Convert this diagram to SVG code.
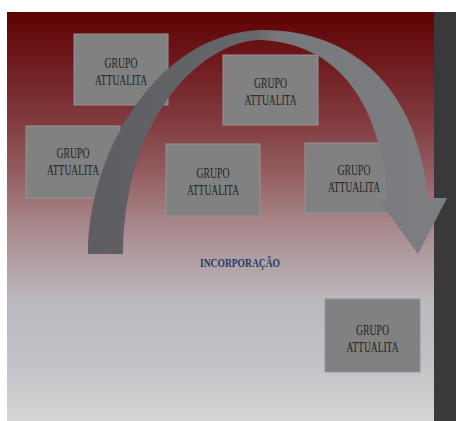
<svg xmlns="http://www.w3.org/2000/svg" width="456" height="421" viewBox="0 0 456 421">
  <defs>
    <linearGradient id="bg" x1="0" y1="12" x2="0" y2="421" gradientUnits="userSpaceOnUse">
      <stop offset="0" stop-color="#5f0203"/>
      <stop offset="0.12" stop-color="#6e1a1d"/>
      <stop offset="0.27" stop-color="#823c40"/>
      <stop offset="0.39" stop-color="#935c5f"/>
      <stop offset="0.51" stop-color="#a68487"/>
      <stop offset="0.63" stop-color="#b4a5a9"/>
      <stop offset="0.71" stop-color="#bcb9be"/>
      <stop offset="0.84" stop-color="#c1c0c5"/>
      <stop offset="0.95" stop-color="#cdcdcf"/>
      <stop offset="1" stop-color="#d6d6d6"/>
    </linearGradient>
    <linearGradient id="arrowFill" x1="88" y1="0" x2="447" y2="0" gradientUnits="userSpaceOnUse">
      <stop offset="0" stop-color="#5e5e62"/>
      <stop offset="0.47" stop-color="#66676b"/>
      <stop offset="0.52" stop-color="#77787c"/>
      <stop offset="1" stop-color="#7d7e82"/>
    </linearGradient>
  </defs>
  <style>
    .box { fill: #818181; stroke: #939393; stroke-width: 1; }
    .lbl { font-family: "Liberation Serif", "DejaVu Serif", serif; font-size: 14.5px; fill: #222222; text-anchor: middle; }
    .title { font-family: "Liberation Serif", "DejaVu Serif", serif; font-size: 13.5px; font-weight: bold; fill: #233d6c; text-anchor: middle; }
  </style>

  <rect x="0" y="0" width="456" height="421" fill="#ffffff"/>
  <rect x="7" y="12" width="427" height="409" fill="url(#bg)"/>
  <rect x="434" y="12" width="22" height="409" fill="#39393c"/>

  <g id="node1">
    <rect class="box" x="74" y="34" width="94" height="71"/>
    <text class="lbl" x="121" y="68" textLength="33" lengthAdjust="spacingAndGlyphs">GRUPO</text>
    <text class="lbl" x="121" y="85" textLength="52" lengthAdjust="spacingAndGlyphs">ATTUALITA</text>
  </g>
  <g id="node2">
    <rect class="box" x="223" y="55" width="95" height="70"/>
    <text class="lbl" x="270.5" y="88" textLength="33" lengthAdjust="spacingAndGlyphs">GRUPO</text>
    <text class="lbl" x="270.5" y="105" textLength="52" lengthAdjust="spacingAndGlyphs">ATTUALITA</text>
  </g>
  <g id="node3">
    <rect class="box" x="26" y="126" width="94" height="72"/>
    <text class="lbl" x="73" y="158" textLength="33" lengthAdjust="spacingAndGlyphs">GRUPO</text>
    <text class="lbl" x="73" y="175" textLength="52" lengthAdjust="spacingAndGlyphs">ATTUALITA</text>
  </g>
  <g id="node4">
    <rect class="box" x="166" y="144" width="94" height="72"/>
    <text class="lbl" x="213" y="178" textLength="33" lengthAdjust="spacingAndGlyphs">GRUPO</text>
    <text class="lbl" x="213" y="195" textLength="52" lengthAdjust="spacingAndGlyphs">ATTUALITA</text>
  </g>
  <g id="node5">
    <rect class="box" x="305" y="143" width="96" height="70"/>
    <text class="lbl" x="354" y="175" textLength="33" lengthAdjust="spacingAndGlyphs">GRUPO</text>
    <text class="lbl" x="354" y="192" textLength="52" lengthAdjust="spacingAndGlyphs">ATTUALITA</text>
  </g>
  <g id="node6">
    <rect class="box" x="325" y="299" width="95" height="73"/>
    <text class="lbl" x="372.5" y="335" textLength="33" lengthAdjust="spacingAndGlyphs">GRUPO</text>
    <text class="lbl" x="372.5" y="352" textLength="52" lengthAdjust="spacingAndGlyphs">ATTUALITA</text>
  </g>

  <g id="connectors">
    <path d="M 88 254 C 88 150, 160 32, 262 30 C 355 30, 418 90, 428 198 L 447 198 L 418 254 L 378 199 L 388 199 C 382 120, 350 45, 262 40 C 215 38, 125 100, 123 254 Z" fill="url(#arrowFill)"/>
  </g>

  <g id="label">
    <text class="title" x="240" y="267" textLength="80" lengthAdjust="spacingAndGlyphs">INCORPORAÇÃO</text>
  </g>
</svg>
